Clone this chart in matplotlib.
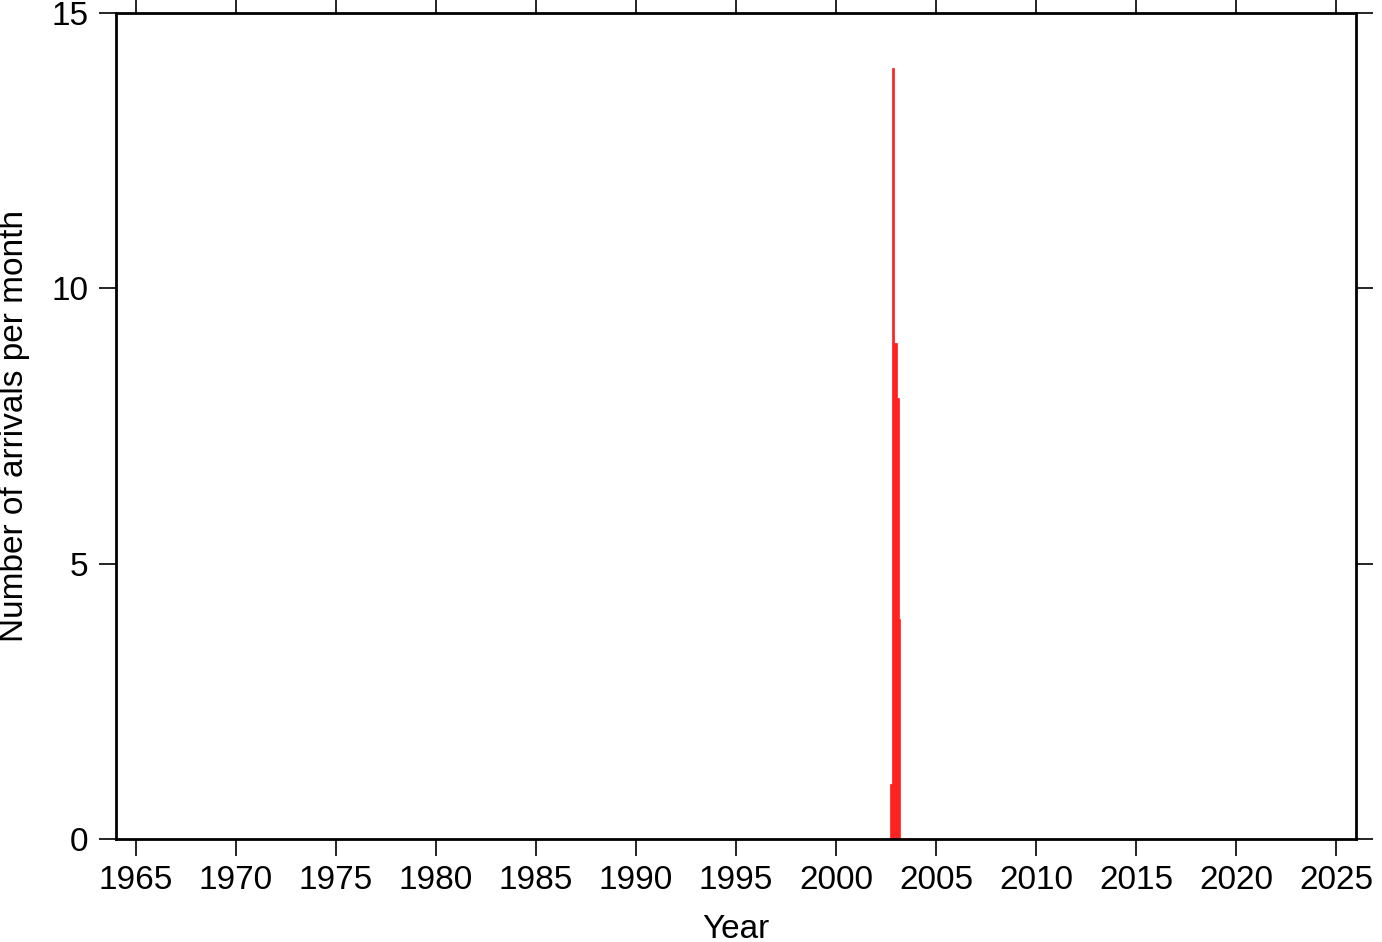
import matplotlib
matplotlib.use("Agg")
import matplotlib.pyplot as plt

# monthly arrival counts (decimal year of month start, count)
month_start = [2002 + 8/12, 2002 + 9/12, 2002 + 10/12, 2002 + 11/12, 2003.0, 2003 + 1/12]
arrivals = [1, 14, 9, 9, 8, 4]
x_ticks = list(range(1965, 2030, 5))
y_ticks = [0, 5, 10, 15]

plt.rcParams['font.family'] = ['Liberation Sans', 'DejaVu Sans']

fig = plt.figure(figsize=(13.82, 9.42), dpi=100)
ax = fig.add_axes([116/1382, 1 - 839/942, (1356-116)/1382, (839-13)/942])

# bars are drawn from mid-month, as in the original histogram
bar_left = [m + 1/24 for m in month_start]
ax.bar(bar_left, arrivals, width=1/12, align='edge', color='#ff2020',
       edgecolor='#ff2020', linewidth=0.5)

ax.set_xlim(1964.0, 2026.0)
ax.set_ylim(0, 15)
ax.set_xticks(x_ticks)
ax.set_yticks(y_ticks)
ax.tick_params(direction='out', length=12, width=1.2, labelsize=24,
               top=True, right=True)
ax.tick_params(axis='x', pad=7)
ax.tick_params(axis='y', pad=8)
for s in ax.spines.values():
    s.set_linewidth(2)

ax.set_xlabel('Year', fontsize=24, va='center')
ax.xaxis.set_label_coords(0.5, (839 - 929) / 826)
ax.set_ylabel('Number of arrivals per month', fontsize=24, va='center')
ax.yaxis.set_label_coords((15 - 116) / 1240, 0.5 - (426 - 426) / 826)

fig.savefig('out.png', dpi=100)
